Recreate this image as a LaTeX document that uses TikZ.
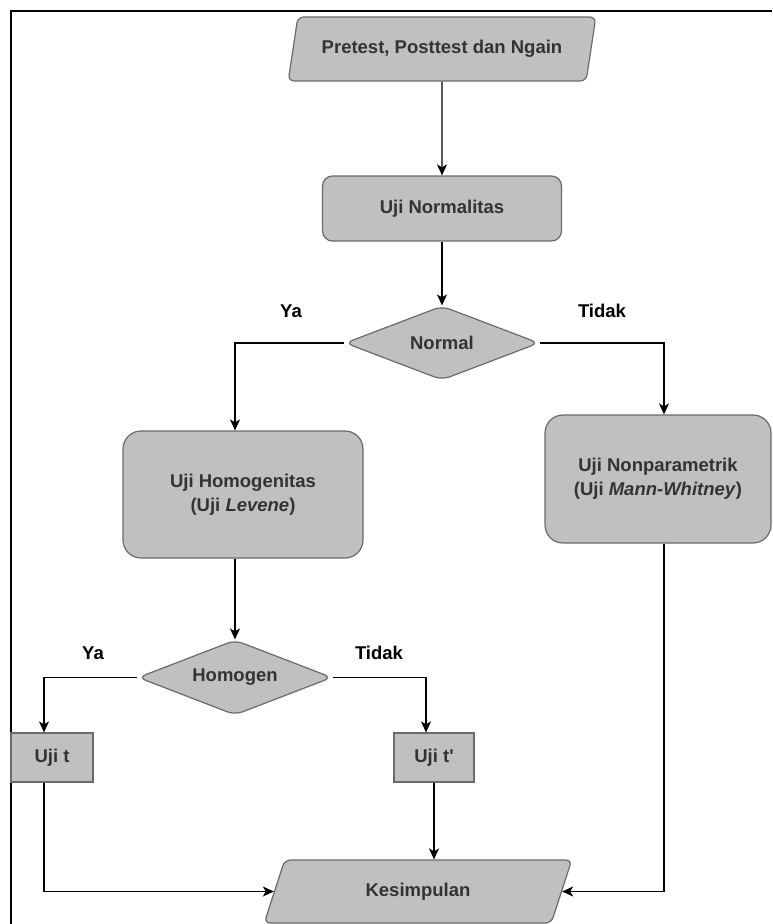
\documentclass[tikz,border=0pt]{standalone}
\usepackage{fontspec}
\setmainfont{Liberation Sans}
\usetikzlibrary{shapes.geometric,arrows.meta}
\definecolor{boxfill}{HTML}{C0C0C0}
\definecolor{boxline}{HTML}{6A6A6A}
\definecolor{boxtext}{HTML}{333333}
\begin{document}
\begin{tikzpicture}[x=1pt,y=-1pt,
  base/.style={draw=boxline, fill=boxfill, line width=1.2pt, text=boxtext,
    font=\fontsize{18.5}{24}\selectfont\bfseries, align=center, inner sep=0pt},
  procbox/.style={base, rectangle, rounded corners=10pt},
  bigbox/.style={base, rectangle, rounded corners=18pt},
  plainbox/.style={base, rectangle},
  decision/.style={base, diamond, aspect=2.6, rounded corners=8pt},
  iobox/.style={base, trapezium, trapezium left angle=65, trapezium right angle=115,
    trapezium stretches=true, rounded corners=6pt},
  conn/.style={draw=black, line width=1.4pt, -{Stealth[length=11pt,width=10pt,inset=3pt]}},
  lbl/.style={font=\fontsize{18.5}{22}\selectfont\bfseries, text=black, inner sep=0pt}
]
\useasboundingbox (0,0) rectangle (772,924);
% frame
\coordinate (fa) at (11,924);
\coordinate (fb) at (11,11);
\coordinate (fc) at (772,11);
\draw[line width=2.2pt, black] (fa) -- (fb) -- (fc);

\node[iobox, minimum width=308pt, minimum height=64pt] (pre) at (442,49) {Pretest, Posttest dan Ngain};
\node[procbox, minimum width=239pt, minimum height=65pt] (un) at (442,208.5) {Uji Normalitas};
\node[decision, minimum width=194pt, minimum height=74pt] (nor) at (442,343) {Normal};
\node[bigbox, minimum width=240pt, minimum height=127pt] (hg) at (243,494.5) {Uji Homogenitas\\(Uji \textit{Levene})};
\node[bigbox, minimum width=226pt, minimum height=128pt] (np) at (658,479) {Uji Nonparametrik\\(Uji \textit{Mann-Whitney})};
\node[decision, minimum width=194pt, minimum height=75pt] (hom) at (235,677.5) {Homogen};
\node[plainbox, minimum width=82pt, minimum height=49pt] (ut) at (52,757.5) {Uji t};
\node[plainbox, minimum width=80pt, minimum height=49pt] (tp) at (434,757.5) {Uji t\textquotesingle};
\node[iobox, minimum width=308pt, minimum height=63pt] (kes) at (418,891.5) {Kesimpulan};

\node[lbl] (ya1) at (291,311) {Ya};
\node[lbl] (td1) at (602,311) {Tidak};
\node[lbl] (ya2) at (93,653) {Ya};
\node[lbl] (td2) at (379,653) {Tidak};

\draw[conn] (pre.south) -- (un.north);
\draw[conn] (un.south) -- (nor.north);
\draw[conn] (nor.west) -| ([xshift=-8pt]hg.north);
\draw[conn] (nor.east) -| ([xshift=6pt]np.north);
\draw[conn] ([xshift=-8pt]hg.south) -- (hom.north);
\draw[conn] (hom.west) -| ([xshift=-8pt]ut.north);
\draw[conn] (hom.east) -| ([xshift=-8pt]tp.north);
\draw[conn] ([xshift=-8pt]ut.south) |- (kes.west);
\draw[conn] (tp.south) -- (tp.south |- kes.north);
\draw[conn] ([xshift=6pt]np.south) |- (kes.east);
\end{tikzpicture}
\end{document}
